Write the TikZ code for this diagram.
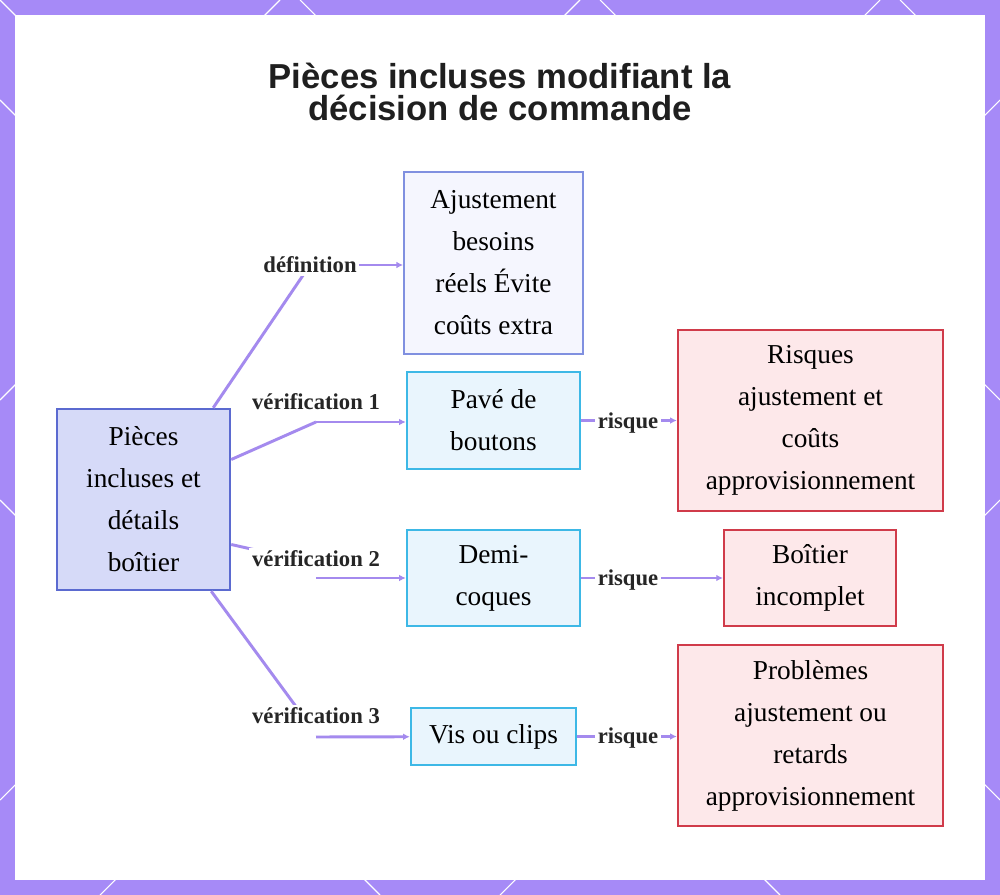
\documentclass[tikz,border=0pt]{standalone}
\usepackage{fontspec}
\setmainfont{Liberation Serif}
\newfontfamily\titlefont{Liberation Sans}
\usetikzlibrary{arrows.meta}
\definecolor{frame}{HTML}{A68AF7}
\definecolor{edge}{HTML}{A48AEE}
\definecolor{mainfill}{HTML}{D6DAF8}\definecolor{maindraw}{HTML}{5B6AD0}
\definecolor{defill}{HTML}{F5F6FE}\definecolor{dedraw}{HTML}{8090E0}
\definecolor{chkfill}{HTML}{E9F5FD}\definecolor{chkdraw}{HTML}{3DB8E6}
\definecolor{rfill}{HTML}{FDE8EA}\definecolor{rdraw}{HTML}{D03B4A}
\begin{document}
\begin{tikzpicture}[x=0.75pt,y=-0.75pt,
  box/.style={draw,line width=1.6pt,align=center,font=\fontsize{20.5}{31.5}\selectfont,inner sep=0pt},
  mainbox/.style={box,fill=mainfill,draw=maindraw},
  defbox/.style={box,fill=defill,draw=dedraw},
  chkbox/.style={box,fill=chkfill,draw=chkdraw},
  riskbox/.style={box,fill=rfill,draw=rdraw},
  lab/.style={fill=white,font=\bfseries\fontsize{17}{19}\selectfont,text=black!85,inner sep=2pt},
  conn/.style={draw=edge,line width=2.2pt},
  arr/.style={conn,-{Latex[length=5pt,width=5pt]}}]
\useasboundingbox (0,0) rectangle (1000,895);
\fill[frame] (0,0) rectangle (1000,895);
\foreach \a in {0,300,600,900}{\draw[white,line width=0.8pt] (\a,0)--(\a+60,60);\draw[white,line width=0.8pt] (\a+280,0)--(\a+220,60);}
\foreach \b in {100,500}{\draw[white,line width=0.8pt] (0,\b)--(60,\b+60);\draw[white,line width=0.8pt] (1000,\b)--(940,\b+60);\draw[white,line width=0.8pt] (0,\b+300)--(60,\b+240);\draw[white,line width=0.8pt] (1000,\b+300)--(940,\b+240);}
\foreach \a in {100,500}{\draw[white,line width=0.8pt] (\a,895)--(\a+60,835);\draw[white,line width=0.8pt] (\a+280,895)--(\a+220,835);}
\fill[white] (15,15) rectangle (985,880);
\node[font=\titlefont\bfseries\fontsize{26}{24.5}\selectfont,align=center,text=black!88] (title) at (500,92) {Pièces incluses modifiant la\\décision de commande};
\node[mainbox,minimum width=130pt,minimum height=136pt] (main) at (143.5,499.5) {Pièces\\incluses et\\détails\\boîtier};
\node[defbox,minimum width=134pt,minimum height=136pt] (def) at (493.5,263) {Ajustement\\besoins\\réels Évite\\coûts extra};
\node[chkbox,minimum width=130pt,minimum height=73pt] (pave) at (493.5,420.5) {Pavé de\\boutons};
\node[chkbox,minimum width=130pt,minimum height=72pt] (demi) at (493.5,578) {Demi-\\coques};
\node[chkbox,minimum width=124pt,minimum height=43pt] (vis) at (493.5,736.5) {Vis ou clips};
\node[riskbox,minimum width=199pt,minimum height=136pt] (r1) at (810.5,420.5) {Risques\\ajustement et\\coûts\\approvisionnement};
\node[riskbox,minimum width=129pt,minimum height=72pt] (r2) at (810,578) {Boîtier\\incomplet};
\node[riskbox,minimum width=199pt,minimum height=136pt] (r3) at (810.5,735.5) {Problèmes\\ajustement ou\\retards\\approvisionnement};
\coordinate (c0) at (310,265);
\coordinate (c1) at (316,422);
\coordinate (c2a) at (300,560);
\coordinate (c2) at (316,578);
\coordinate (c3a) at (300,712);
\coordinate (c3) at (316,737);
\draw[conn] (main.north east)++(-18,0) -- (c0);
\draw[arr] (c0) -- (def.west|-c0);
\draw[conn] (main.east)++(0,-40) -- (c1);
\draw[arr] (c1) -- (pave.west|-c1);
\draw[conn] (main.east)++(0,45) -- (c2a);
\draw[arr] (c2) -- (demi);
\draw[conn] (main.south east)++(-20,0) -- (c3a);
\draw[arr] (c3) -- (vis);
\node[lab] (l0) at (310,265) {définition};
\node[lab] (l1) at (316,402) {vérification 1};
\node[lab] (l2) at (316,559) {vérification 2};
\node[lab] (l3) at (316,716) {vérification 3};
\draw[arr] (pave) -- (r1);
\draw[arr] (demi) -- (r2);
\draw[arr] (vis) -- (vis-|r3.west);
\node[lab] (k1) at (628,423) {risque};
\node[lab] (k2) at (628,580) {risque};
\node[lab] (k3) at (628,738) {risque};
\end{tikzpicture}
\end{document}
